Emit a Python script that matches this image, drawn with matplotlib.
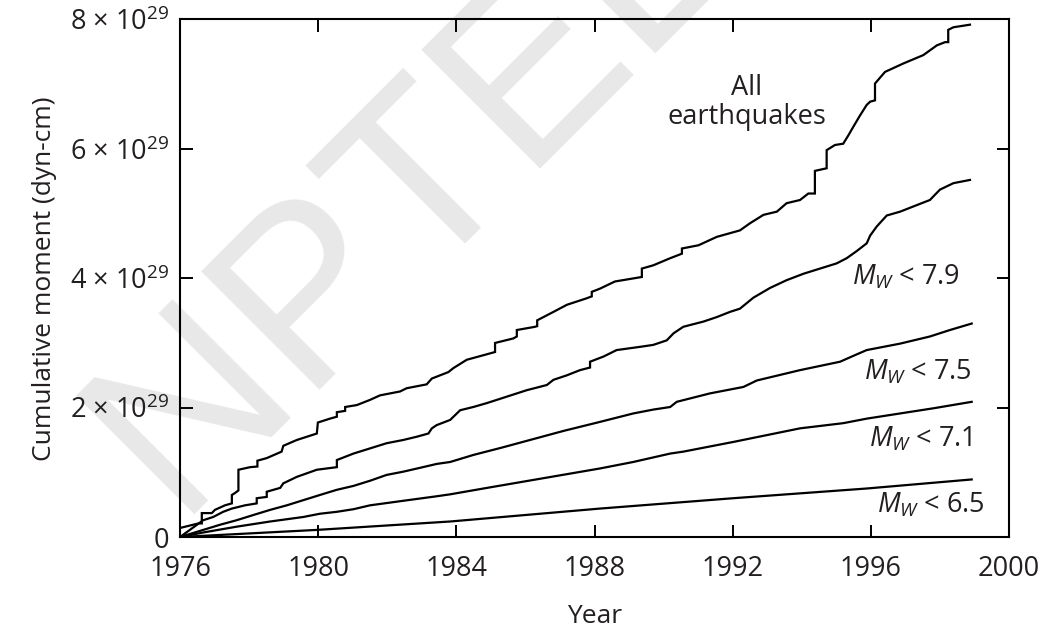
import numpy as np
import matplotlib
matplotlib.use('Agg')
import matplotlib.pyplot as plt

plt.rcParams['font.family'] = ['Open Sans', 'DejaVu Sans']
plt.rcParams['mathtext.fontset'] = 'custom'
plt.rcParams['mathtext.rm'] = 'Open Sans'
plt.rcParams['mathtext.it'] = 'Open Sans:italic'

TXT = '#231f20'
FS = 19.5

# cumulative seismic moment, units of 1e29 dyn-cm
yr_all = [1976.00, 1976.53, 1976.63, 1976.63, 1976.92, 1977.01, 1977.30, 1977.50, 1977.50, 1977.59,
          1977.69, 1977.69, 1978.03, 1978.24, 1978.24, 1978.51, 1978.94, 1978.99, 1979.38, 1979.96,
          1979.99, 1980.34, 1980.54, 1980.54, 1980.78, 1980.78, 1981.12, 1981.50, 1981.79, 1982.37,
          1982.56, 1983.14, 1983.29, 1983.77, 1983.91, 1984.30, 1984.78, 1985.12, 1985.12, 1985.65,
          1985.75, 1985.75, 1986.28, 1986.34, 1986.34, 1986.81, 1987.20, 1987.77, 1987.92, 1987.92,
          1988.16, 1988.59, 1989.37, 1989.37, 1989.70, 1990.19, 1990.53, 1990.53, 1991.01, 1991.54,
          1992.21, 1992.50, 1992.89, 1993.28, 1993.56, 1993.95, 1994.19, 1994.38, 1994.38, 1994.72,
          1994.72, 1994.96, 1995.20, 1995.35, 1995.49, 1995.69, 1995.88, 1995.98, 1996.12, 1996.12,
          1996.41, 1996.94, 1997.52, 1997.91, 1998.15, 1998.24, 1998.24, 1998.39, 1998.87]
m_all = [0.14, 0.21, 0.21, 0.37, 0.37, 0.42, 0.49, 0.52, 0.65, 0.68,
         0.72, 1.04, 1.08, 1.09, 1.18, 1.22, 1.32, 1.41, 1.50, 1.60,
         1.77, 1.83, 1.86, 1.93, 1.95, 2.01, 2.04, 2.12, 2.19, 2.25,
         2.30, 2.36, 2.45, 2.55, 2.61, 2.74, 2.81, 2.86, 3.00, 3.07,
         3.10, 3.20, 3.25, 3.26, 3.35, 3.48, 3.59, 3.69, 3.72, 3.79,
         3.84, 3.95, 4.02, 4.15, 4.20, 4.31, 4.38, 4.46, 4.51, 4.64,
         4.74, 4.85, 4.98, 5.03, 5.16, 5.21, 5.31, 5.31, 5.66, 5.70,
         5.98, 6.06, 6.08, 6.21, 6.34, 6.52, 6.68, 6.73, 6.75, 7.01,
         7.19, 7.32, 7.45, 7.60, 7.65, 7.65, 7.84, 7.88, 7.92]

yr_79 = [1976.00, 1976.67, 1976.96, 1977.25, 1977.50, 1977.88, 1978.22, 1978.22, 1978.51, 1978.51,
         1978.90, 1978.99, 1979.38, 1979.96, 1980.54, 1980.54, 1981.02, 1981.50, 1981.98, 1982.46,
         1982.85, 1983.19, 1983.29, 1983.43, 1983.82, 1984.11, 1984.49, 1984.88, 1985.46, 1986.04,
         1986.62, 1986.81, 1987.20, 1987.58, 1987.87, 1987.87, 1988.26, 1988.64, 1989.32, 1989.70,
         1990.09, 1990.29, 1990.57, 1991.15, 1991.54, 1991.92, 1992.21, 1992.60, 1993.08, 1993.56,
         1994.05, 1994.53, 1995.01, 1995.30, 1995.59, 1995.88, 1995.98, 1996.17, 1996.46, 1996.85,
         1997.23, 1997.71, 1998.00, 1998.39, 1998.87]
m_79 = [0.00, 0.26, 0.31, 0.39, 0.44, 0.49, 0.52, 0.60, 0.62, 0.70,
        0.76, 0.83, 0.93, 1.04, 1.08, 1.19, 1.29, 1.37, 1.45, 1.50,
        1.55, 1.60, 1.68, 1.73, 1.81, 1.96, 2.01, 2.07, 2.17, 2.27,
        2.35, 2.43, 2.50, 2.58, 2.62, 2.71, 2.79, 2.89, 2.94, 2.97,
        3.04, 3.15, 3.25, 3.33, 3.40, 3.48, 3.53, 3.70, 3.85, 3.97,
        4.07, 4.15, 4.23, 4.31, 4.42, 4.54, 4.66, 4.80, 4.97, 5.03,
        5.11, 5.21, 5.37, 5.47, 5.52]

yr_75 = [1976.00, 1976.67, 1977.16, 1977.64, 1978.12, 1978.61, 1979.09, 1979.57, 1980.05, 1980.54,
         1981.02, 1981.50, 1981.98, 1982.46, 1982.95, 1983.43, 1983.82, 1984.50, 1985.30, 1986.20,
         1987.10, 1988.16, 1989.12, 1989.70, 1990.19, 1990.38, 1991.34, 1992.31, 1992.70, 1993.95,
         1995.11, 1995.49, 1995.88, 1996.85, 1997.71, 1998.29, 1998.92]
m_75 = [0.00, 0.11, 0.19, 0.26, 0.34, 0.42, 0.49, 0.57, 0.65, 0.73,
        0.79, 0.87, 0.96, 1.01, 1.07, 1.13, 1.16, 1.27, 1.38, 1.51,
        1.64, 1.78, 1.91, 1.97, 2.01, 2.09, 2.22, 2.32, 2.42, 2.58,
        2.71, 2.80, 2.89, 2.99, 3.10, 3.20, 3.30]

yr_71 = [1976.00, 1976.67, 1977.64, 1978.61, 1979.57, 1980.05, 1980.54, 1981.02, 1981.50, 1982.46,
         1983.43, 1983.82, 1985.00, 1986.20, 1988.16, 1989.12, 1990.19, 1990.57, 1992.02, 1993.95,
         1995.20, 1995.88, 1997.81, 1998.92]
m_71 = [0.00, 0.07, 0.16, 0.24, 0.31, 0.36, 0.39, 0.43, 0.49, 0.56,
        0.63, 0.66, 0.77, 0.88, 1.06, 1.16, 1.29, 1.32, 1.47, 1.68,
        1.76, 1.83, 1.99, 2.09]

yr_65 = [1976.00, 1979.96, 1983.82, 1988.16, 1992.02, 1995.88, 1998.92]
m_65 = [0.00, 0.11, 0.24, 0.44, 0.60, 0.75, 0.89]

yticks = [0, 2, 4, 6, 8]
xticks = [1976, 1980, 1984, 1988, 1992, 1996, 2000]

fig = plt.figure(figsize=(10.48, 6.27), dpi=100)
# light diagonal watermark behind the axes
fig.text(0.39, 0.695, 'NPTEL', fontsize=176, color='#e8e8e8', rotation=45,
         ha='center', va='center', family='Liberation Sans', zorder=-1)

ax = fig.add_axes([0.1718, 0.1435, 0.791, 0.8254])
ax.patch.set_alpha(0)

for yrs, vals in [(yr_all, m_all), (yr_79, m_79), (yr_75, m_75), (yr_71, m_71), (yr_65, m_65)]:
    ax.plot(yrs, np.array(vals) * 1e29, color='black', lw=1.6, solid_joinstyle='miter')

ax.set_xlim(1976, 2000)
ax.set_ylim(0, 8e29)
ax.set_xticks(xticks)
ax.set_xticklabels([str(x) for x in xticks])
ax.set_yticks([v * 1e29 for v in yticks])
ax.set_yticklabels(['0' if v == 0 else '%d × 10$^{29}$' % v for v in yticks])
ax.tick_params(direction='in', length=9, width=1.4, top=True, right=True,
               labelsize=FS, labelcolor=TXT)
ax.tick_params(axis='x', pad=13)
ax.tick_params(axis='y', pad=8)
for s in ax.spines.values():
    s.set_linewidth(1.5)

ax.set_xlabel('Year', fontsize=19, color=TXT, labelpad=15)
ax.set_ylabel('Cumulative moment (dyn-cm)', fontsize=19, color=TXT, labelpad=9)

ax.text(1992.4, 6.71e29, 'All\nearthquakes', ha='center', va='center',
        fontsize=FS, color=TXT, linespacing=1.05)
ax.text(1998.58, 4.02e29, r'$M_W$ < 7.9', ha='right', va='center', fontsize=FS, color=TXT)
ax.text(1998.93, 2.55e29, r'$M_W$ < 7.5', ha='right', va='center', fontsize=FS, color=TXT)
ax.text(1998.93, 1.51e29, r'$M_W$ < 7.1', ha='right', va='center', fontsize=FS, color=TXT)
ax.text(1999.31, 0.49e29, r'$M_W$ < 6.5', ha='right', va='center', fontsize=FS, color=TXT)

fig.savefig('out.png', dpi=100)
